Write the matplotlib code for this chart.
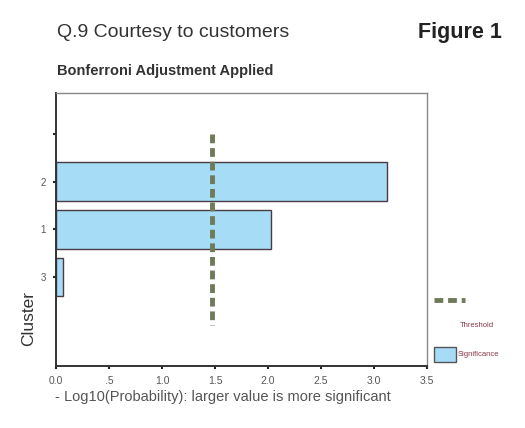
import matplotlib.pyplot as plt
from matplotlib.lines import Line2D
from matplotlib.patches import Rectangle

plt.rcParams['font.family'] = ['Liberation Sans', 'DejaVu Sans']

# clusters from top to bottom (first slot is an empty tick)
cluster_labels = ['', '2', '1', '3']
cluster_pos = [1, 2, 3]
significance = [3.12, 2.03, 0.06]
threshold = 1.47
threshold_span = [0, 4]

xticks = [0.0, 0.5, 1.0, 1.5, 2.0, 2.5, 3.0, 3.5]
xticklabels = ['0.0', '.5', '1.0', '1.5', '2.0', '2.5', '3.0', '3.5']

bar_color = '#a6dcf6'
line_color = '#6e7a58'

fig = plt.figure(figsize=(5.25, 4.28), dpi=100)
ax = fig.add_axes([0.107, 0.145, 0.706, 0.638])

ax.barh(cluster_pos, significance, height=0.8, color=bar_color,
        edgecolor='#4a3a44', linewidth=1.0)
ax.plot([threshold, threshold], threshold_span, color=line_color,
        linewidth=3.5, dashes=(1.8, 1.0), solid_capstyle='butt')

ax.set_xlim(0, 3.5)
ax.set_ylim(4.85, -0.85)
ax.set_xticks(xticks)
ax.set_xticklabels(xticklabels, fontsize=7.5, color='#555555')
ax.set_yticks(range(len(cluster_labels)))
ax.set_yticklabels(cluster_labels, fontsize=7, color='#555555')
ax.tick_params(length=2.5, width=1.5, color='#222222', pad=5)

for side in ['left', 'bottom']:
    ax.spines[side].set_linewidth(1.4)
    ax.spines[side].set_color('#333333')
for side in ['top', 'right']:
    ax.spines[side].set_linewidth(1.0)
    ax.spines[side].set_color('#888888')

fig.text(0.109, 0.925, 'Q.9 Courtesy to customers', fontsize=14,
         color='#333333', va='center')
fig.text(0.955, 0.925, 'Figure 1', fontsize=15.5, color='#222222',
         fontweight='bold', ha='right', va='center')
fig.text(0.109, 0.835, 'Bonferroni Adjustment Applied', fontsize=10.5,
         fontweight='bold', color='#333333', va='center')
fig.text(0.105, 0.073, '- Log10(Probability): larger value is more significant',
         fontsize=10.5, color='#555555', va='center')
fig.text(0.055, 0.255, 'Cluster', fontsize=12.5, color='#333333',
         rotation=90, ha='center', va='center')

# legend
fig.add_artist(Line2D([0.826, 0.886], [0.298, 0.298], color=line_color,
                      linewidth=3.5, dashes=(1.8, 1.0)))
fig.text(0.876, 0.24, 'Threshold', fontsize=5.5, color='#8a3a4a',
         va='center')
fig.add_artist(Rectangle((0.826, 0.155), 0.042, 0.035, facecolor=bar_color,
                         edgecolor='#555555', linewidth=1.0))
fig.text(0.872, 0.172, 'Significance', fontsize=5.5, color='#8a3a4a',
         va='center')

fig.savefig('out.png', dpi=100)
